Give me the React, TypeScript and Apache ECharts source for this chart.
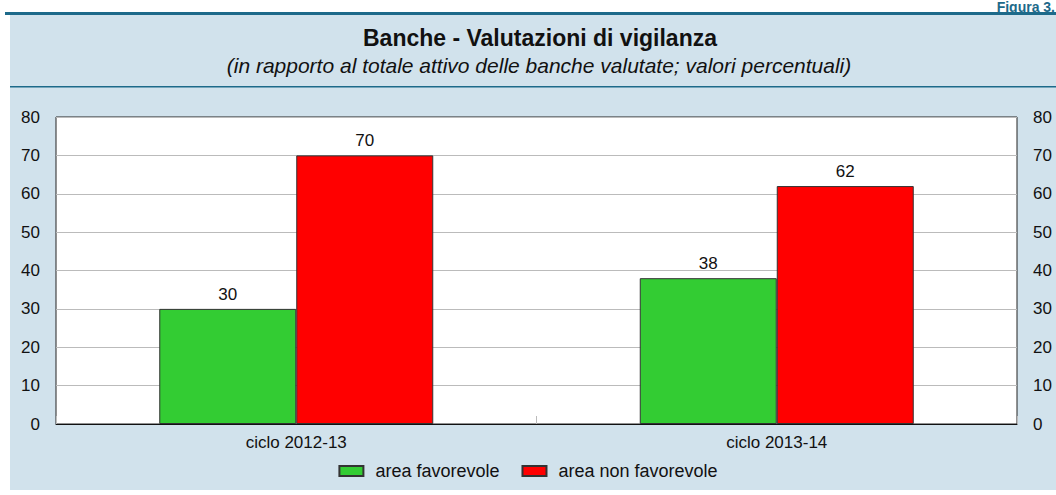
import React, { useEffect, useRef } from "react";
import * as echarts from "echarts";

const categories = ["ciclo 2012-13", "ciclo 2013-14"];
const favorevole = [30, 38];
const nonFavorevole = [70, 62];
const seriesNames = ["area favorevole", "area non favorevole"];
const titleText = "Banche - Valutazioni di vigilanza";
const subtitleText = "(in rapporto al totale attivo delle banche valutate; valori percentuali)";
const figureText = "Figura 3.";

const FONT = "'Liberation Sans', Arial, Helvetica, sans-serif";
const PANEL = "#D1E2EC";
const TEAL = "#1D6A8A";
const FS = 17;

export default function App() {
  const ref = useRef<HTMLDivElement>(null);
  useEffect(() => {
    document.body.style.margin = "0";
    const chart = echarts.init(ref.current!, undefined, { renderer: "svg" });
    const labelStyle = { fontSize: FS, color: "#111", fontFamily: FONT };
    chart.setOption({
      animation: false,
      backgroundColor: "#ffffff",
      textStyle: { fontFamily: FONT },
      graphic: [
        { type: "rect", z: -10, shape: { x: 10, y: 14, width: 1046, height: 476 }, style: { fill: PANEL } },
        { type: "rect", z: -5, shape: { x: 5, y: 12, width: 1051, height: 3 }, style: { fill: TEAL } },
        { type: "rect", z: -5, shape: { x: 10, y: 86, width: 1046, height: 1.5 }, style: { fill: TEAL } },
        {
          type: "text", right: 1, top: 0,
          style: { text: figureText, font: `bold 14px ${FONT}`, fill: TEAL },
        },
        {
          type: "text", x: 540, y: 38,
          style: { text: titleText, font: `bold 23px ${FONT}`, fill: "#111", align: "center", verticalAlign: "middle" },
        },
        {
          type: "text", x: 539, y: 65,
          style: { text: subtitleText, font: `italic 21px ${FONT}`, fill: "#111", align: "center", verticalAlign: "middle" },
        },
      ],
      grid: {
        left: 56, right: 39, top: 117, bottom: 71,
        show: true, backgroundColor: "#ffffff", borderColor: "#222", borderWidth: 1,
      },
      legend: {
        bottom: 10, left: "center",
        itemWidth: 24, itemHeight: 10, itemGap: 22,
        icon: "rect",
        textStyle: { ...labelStyle, fontSize: 18, padding: [0, 0, 0, 7] },
        data: seriesNames,
      },
      xAxis: {
        type: "category",
        data: categories,
        axisLine: { lineStyle: { color: "#111", width: 1 } },
        axisTick: { show: true, inside: true, length: 8, lineStyle: { color: "#bbb" } },
        axisLabel: { ...labelStyle, margin: 10 },
      },
      yAxis: [
        {
          type: "value", min: 0, max: 80, interval: 10, position: "left",
          axisLine: { show: false }, axisTick: { show: false },
          splitLine: { lineStyle: { color: "#bbb", width: 1 } },
          axisLabel: { ...labelStyle, margin: 16 },
        },
        {
          type: "value", min: 0, max: 80, interval: 10, position: "right",
          axisLine: { show: false }, axisTick: { show: false },
          splitLine: { show: false },
          axisLabel: { ...labelStyle, margin: 16 },
        },
      ],
      series: [
        {
          name: seriesNames[0], type: "bar", data: favorevole,
          barWidth: 137, barGap: "0%",
          itemStyle: { color: "#33CC33", borderColor: "#333", borderWidth: 1 },
          label: { show: true, position: "top", distance: 6, ...labelStyle },
        },
        {
          name: seriesNames[1], type: "bar", data: nonFavorevole,
          barWidth: 137, barGap: "0%",
          itemStyle: { color: "#FF0000", borderColor: "#333", borderWidth: 1 },
          label: { show: true, position: "top", distance: 6, ...labelStyle },
        },
      ],
    });
    return () => chart.dispose();
  }, []);
  return <div ref={ref} style={{ width: 1056, height: 495 }} />;
}
